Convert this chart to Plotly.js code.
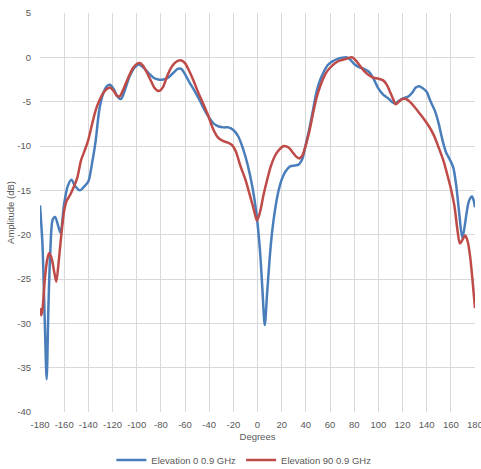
<!DOCTYPE html>
<html>
<head>
<meta charset="utf-8">
<script src="https://cdn.plot.ly/plotly-3.0.1.min.js"></script>
<style>html,body{margin:0;padding:0;background:#fff;}#chart{width:481px;height:469px;}</style>
</head>
<body>
<div id="chart"></div>
<script>
const seriesNames = ["Elevation 0 0.9 GHz", "Elevation 90 0.9 GHz"];

const degElev0 = [-180,-178,-176,-174.5,-173,-171.5,-169.5,-167.5,-165,-163,-160,-157,-154,-151,-147,-143,-140,-137,-134,-131,-128,-125,-122,-119,-116,-113,-110,-106,-102,-98,-94,-90,-86,-82,-78,-74,-70,-66,-63,-60,-56,-52,-48,-44,-40,-36,-32,-28,-24,-20,-16,-12,-8,-4,-1,2,4,6,8,10,12,14.5,17,20,23,27,31,34,37,40,43,46,49,52,55,58,62,66,70,74,77,80,84,88,92,96,100,104,108,111,114,117,121,125,128,131,134,137,140,143,147,150,153,156,159,162,164.5,166.5,169.5,171.5,173,175,177.5,179,180];
const ampElev0 = [-16.7,-21,-30,-36.3,-28,-22,-18.3,-18.0,-19.0,-19.8,-16.5,-14.5,-13.8,-14.5,-15.0,-14.5,-14.0,-12,-9.5,-6.0,-4.2,-3.3,-3.1,-3.6,-4.4,-4.7,-3.8,-2.2,-1.2,-0.8,-1.2,-1.8,-2.3,-2.5,-2.5,-2.3,-1.8,-1.3,-1.3,-1.9,-2.9,-3.8,-4.8,-5.9,-6.8,-7.5,-7.8,-7.9,-7.9,-8.2,-8.9,-10.3,-12.2,-14.8,-17.5,-21.7,-26,-30.2,-26.5,-22.8,-19.8,-17.2,-15.3,-13.8,-12.9,-12.3,-12.2,-12.1,-11.5,-9.8,-8.0,-5.9,-3.8,-2.5,-1.6,-0.9,-0.45,-0.2,-0.05,0,-0.3,-0.75,-1.1,-1.3,-1.6,-2.4,-3.5,-4.2,-4.6,-5.0,-5.2,-4.9,-4.6,-4.4,-4.0,-3.4,-3.25,-3.5,-3.9,-4.9,-6.1,-7.5,-9.3,-10.7,-11.5,-12.4,-14.5,-17,-20.4,-19,-17.6,-16.2,-15.7,-16.2,-16.9];

const degElev90 = [-180,-179,-178,-176,-174,-172.5,-170.5,-168.5,-166.5,-164.5,-162.5,-160,-158,-155,-152,-149,-146,-143,-140,-137,-134,-131,-128,-125,-122,-119,-116.5,-114,-111,-107,-103,-100,-97.5,-95,-92,-88,-85,-81.5,-78,-75,-72,-69,-66,-63,-60,-57,-53,-49,-45,-41,-37,-33,-29,-25,-21,-18,-14,-10,-6,-3,-0.5,2,5,8,11,14.5,18,22,26,29,32,34.5,37,40,43,46,49,52,55,58,62,66,70,74,78,81,84,88,92,96,100,104,107,110,112.5,114.5,117,120,123,126,130,134,138,142,146,150,154,157,160,163,165.5,167.5,169.5,172,174,176,178,180];
const ampElev90 = [-28.3,-29.1,-28.5,-25,-22.8,-22.1,-22.6,-24,-25.3,-23,-20.2,-17.3,-16.2,-15.5,-14.6,-13.5,-11.6,-10.5,-9.3,-7.6,-6.0,-4.9,-4.1,-3.6,-3.4,-3.8,-4.3,-4.4,-3.6,-2.3,-1.2,-0.75,-0.65,-0.9,-1.6,-2.7,-3.5,-3.8,-3.3,-2.2,-1.3,-0.7,-0.4,-0.35,-0.65,-1.4,-2.6,-4.0,-5.2,-6.5,-8.0,-9.0,-9.4,-9.6,-9.9,-10.6,-12.3,-13.8,-15.7,-17.2,-18.4,-17.5,-15.5,-13.8,-12.3,-11.1,-10.4,-10.0,-10.2,-10.7,-11.2,-11.4,-11.1,-9.9,-8.3,-6.3,-4.5,-3.2,-2.2,-1.5,-0.9,-0.5,-0.3,-0.15,0,-0.3,-0.8,-1.5,-2.0,-2.3,-2.4,-2.6,-3.1,-4.0,-4.8,-5.3,-5.0,-4.7,-4.7,-5.0,-5.6,-6.3,-7.0,-7.8,-8.8,-10.2,-11.7,-13.2,-14.8,-16.8,-19.5,-21.0,-20.6,-20.1,-20.8,-22.5,-25.2,-28.3];

const xTickVals = [-180,-160,-140,-120,-100,-80,-60,-40,-20,0,20,40,60,80,100,120,140,160,180];
const xTickText = ["-180","-160","-140","-120","-100","-80","-60","-40","-20","0","20","40","60","80","100","120","140","160","180"];
const yTickVals = [5,0,-5,-10,-15,-20,-25,-30,-35,-40];
const yTickText = ["5","0","-5","-10","-15","-20","-25","-30","-35","-40"];

const xTitle = "Degrees";
const yTitle = "Amplitude (dB)";

const textColor = "#595959";
const gridColor = "#d9d9d9";
const fs = 9.5;

const traces = [
  {x: degElev0, y: ampElev0, name: seriesNames[0], type: "scatter", mode: "lines",
   line: {color: "#4a7ebb", width: 2.5, shape: "spline", smoothing: 0.8}},
  {x: degElev90, y: ampElev90, name: seriesNames[1], type: "scatter", mode: "lines",
   line: {color: "#be4b48", width: 2.5, shape: "spline", smoothing: 0.8}}
];

const layout = {
  width: 481, height: 469,
  margin: {l: 40, r: 6, t: 13, b: 57, autoexpand: false},
  paper_bgcolor: "#ffffff", plot_bgcolor: "#ffffff",
  font: {family: "Liberation Sans, Arial, sans-serif", size: fs, color: textColor},
  showlegend: true,
  legend: {orientation: "h", x: 0.507, xanchor: "center", xref: "container",
           y: 0.019, yanchor: "middle", yref: "container",
           font: {size: fs, color: textColor}, traceorder: "normal"},
  xaxis: {
    range: [-180, 180], tickmode: "array", tickvals: xTickVals, ticktext: xTickText,
    showgrid: true, gridcolor: gridColor, gridwidth: 1,
    zeroline: false, showline: false, ticks: "",
    tickangle: 0, automargin: false, ticklabeloverflow: "allow",
    ticklabelstandoff: 5,
    tickfont: {size: fs, color: textColor},
    title: {text: xTitle, font: {size: fs, color: textColor}, standoff: 4}
  },
  yaxis: {
    range: [-40, 5], tickmode: "array", tickvals: yTickVals, ticktext: yTickText,
    showgrid: true, gridcolor: gridColor, gridwidth: 1,
    zeroline: false, showline: false, ticks: "", automargin: false,
    ticklabelstandoff: 8,
    tickfont: {size: fs, color: textColor},
    title: {text: yTitle, font: {size: fs, color: textColor}, standoff: 0}
  }
};

Plotly.newPlot("chart", traces, layout, {displayModeBar: false, staticPlot: true});
</script>
</body>
</html>
